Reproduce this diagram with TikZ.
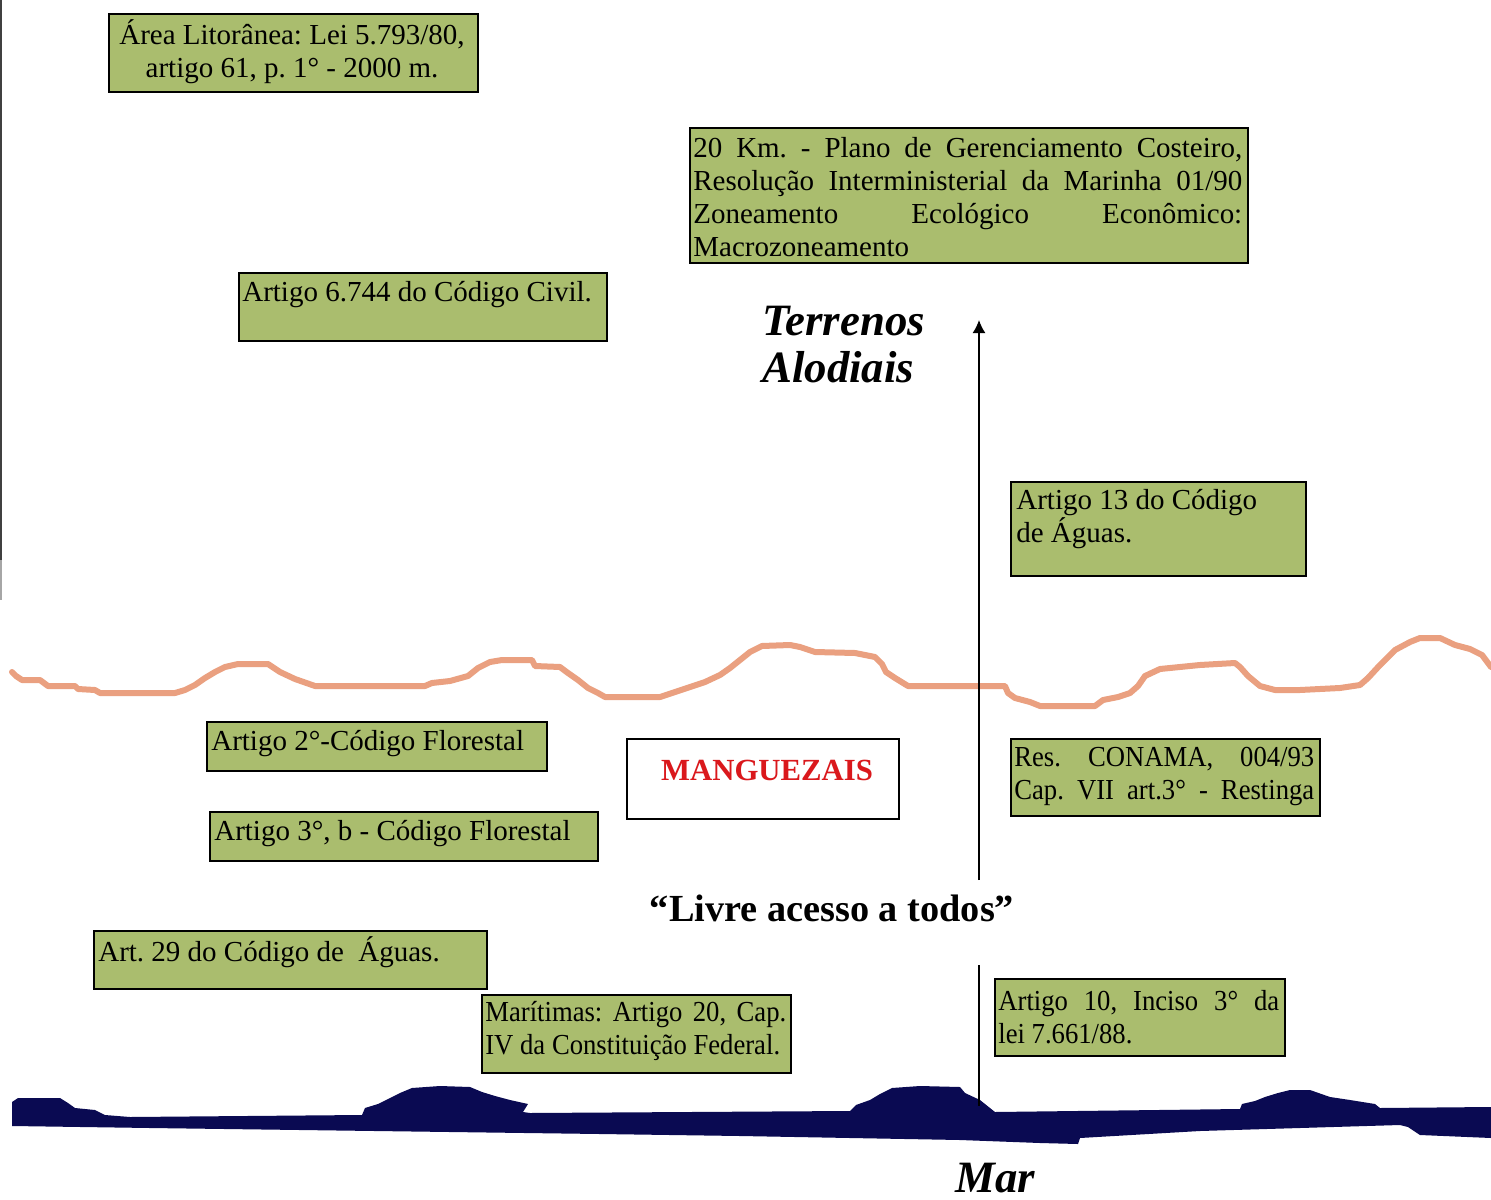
\documentclass[tikz,border=0pt]{standalone}
\usepackage{fontspec}
\setmainfont{Liberation Serif}
\newfontfamily\condfont[FakeStretch=0.92]{Liberation Serif}
\usetikzlibrary{arrows.meta}
\definecolor{boxgreen}{RGB}{170,189,110}
\definecolor{coast}{RGB}{234,160,128}
\definecolor{sea}{RGB}{10,10,82}
\definecolor{mred}{RGB}{218,24,28}
\newcommand\jline[2]{\makebox[#1][s]{#2}}
\AtBeginDocument{\frenchspacing}
\begin{document}
\begin{tikzpicture}[x=0.02cm,y=-0.02cm,
  gbox/.style={draw=black, line width=0.04cm, fill=boxgreen, anchor=north west, inner sep=0pt},
  wbox/.style={gbox, fill=white},
  txt/.style={anchor=west, inner sep=0pt, align=left, font=\fontsize{16.5}{18.8}\selectfont},
  ctxt/.style={anchor=west, inner sep=0pt, align=left, font=\condfont\fontsize{16.5}{18.8}\selectfont},
  bigit/.style={anchor=base west, inner sep=0pt, font=\fontsize{25.5}{27}\selectfont\bfseries\itshape},
  coastline/.style={draw=coast, line width=0.12cm, line join=round, line cap=round},
  axis/.style={draw=black, line width=0.03cm}]
\fill[white] (0,0) rectangle (1491,1200);
\useasboundingbox (0,0) rectangle (1491,1200);
% scan edge on the left
\draw[black!75, line width=0.04cm] (1,0) -- (1,560);
\draw[black!35, line width=0.04cm] (1,560) -- (1,600);

% coastline (orange)
\draw[coastline] (12,672) -- (16,676) -- (22,680) -- (40,680) -- (48,686) -- (75,686) -- (78,689) -- (95,690) -- (100,693) -- (175,693) -- (185,690) -- (195,685) -- (205,678) -- (215,672) -- (225,667) -- (238,664) -- (268,664) -- (280,672) -- (295,679) -- (315,686) -- (425,686) -- (432,683) -- (450,681) -- (468,676) -- (478,668) -- (490,662) -- (502,660) -- (532,660) -- (535,666) -- (560,667) -- (568,673) -- (578,680) -- (588,688) -- (598,693) -- (605,697) -- (660,697) -- (672,693) -- (690,687) -- (705,682) -- (720,675) -- (730,668) -- (740,660) -- (750,652) -- (762,646) -- (790,645) -- (800,647) -- (815,652) -- (855,653) -- (875,657) -- (882,664) -- (886,672) -- (895,678) -- (908,686) -- (1005,686) -- (1008,693) -- (1015,698) -- (1030,702) -- (1040,706) -- (1095,706) -- (1103,700) -- (1118,697) -- (1130,693) -- (1138,686) -- (1145,676) -- (1160,669) -- (1200,665) -- (1235,663) -- (1240,667) -- (1248,676) -- (1260,686) -- (1275,690) -- (1300,690) -- (1340,688) -- (1360,685) -- (1368,678) -- (1380,665) -- (1395,650) -- (1410,642) -- (1420,638) -- (1440,638) -- (1455,645) -- (1470,649) -- (1482,655) -- (1491,667);

% sea (navy)
\fill[sea] (12,1102) -- (18,1098) -- (60,1098) -- (68,1103) -- (75,1108) -- (95,1110) -- (105,1115) -- (130,1117) -- (362,1115) -- (365,1108) -- (378,1104) -- (390,1098) -- (400,1093) -- (412,1088) -- (440,1086) -- (470,1087) -- (482,1092) -- (495,1096) -- (510,1100) -- (528,1104) -- (523,1112) -- (530,1113) -- (850,1111) -- (856,1105) -- (870,1100) -- (880,1094) -- (892,1088) -- (920,1086) -- (960,1087) -- (965,1093) -- (980,1100) -- (990,1108) -- (995,1112) -- (1240,1109) -- (1242,1104) -- (1255,1101) -- (1265,1097) -- (1278,1093) -- (1290,1090) -- (1310,1090) -- (1330,1097) -- (1350,1100) -- (1375,1104) -- (1380,1108) -- (1491,1107) -- (1491,1138) -- (1420,1135) -- (1408,1127) -- (1400,1125) -- (1200,1131) -- (1080,1138) -- (1078,1144) -- (1040,1143) -- (960,1140) -- (740,1136) -- (600,1134) -- (300,1130) -- (150,1128) -- (12,1126) -- cycle;

% axis
\coordinate (upperFoot) at (979,880);
\coordinate (upperTip) at (979,320);
\coordinate (lowerTop) at (979,965);
\coordinate (lowerFoot) at (979,1106);
\draw[axis, -{Latex[length=7.5pt,width=7.5pt]}] (upperFoot) -- (upperTip);
\draw[axis] (lowerTop) -- (lowerFoot);

% boxes
\node[gbox, minimum width=7.38cm, minimum height=1.56cm] (b1) at (108,13) {};
\node[txt, anchor=center, align=center] (t1) at (292,52) {Área Litorânea: Lei 5.793/80,\\artigo 61, p. 1° - 2000 m.};

\node[gbox, minimum width=11.16cm, minimum height=2.70cm] (b2) at (689,127) {};
\node[txt] (t2) at (693,197) {\jline{10.98cm}{20 Km. - Plano de Gerenciamento Costeiro,}\\\jline{10.98cm}{Resolução Interministerial da Marinha 01/90}\\\jline{10.98cm}{Zoneamento Ecológico Econômico:}\\Macrozoneamento};

\node[gbox, minimum width=7.36cm, minimum height=1.36cm] (b3) at (238,272) {};
\node[txt] (t3) at (242,295) {Artigo 6.744 do Código Civil.};

\node[gbox, minimum width=5.90cm, minimum height=1.88cm] (b4) at (1010,481) {};
\node[txt] (t4) at (1016,519) {Artigo 13 do Código\\ de Águas.};

\node[gbox, minimum width=6.80cm, minimum height=0.98cm] (b5) at (206,721) {};
\node[txt] (t5) at (211,744) {Artigo 2°-Código Florestal};

\node[wbox, minimum width=5.44cm, minimum height=1.60cm] (b6) at (626,738) {};
\node[anchor=center, inner sep=0pt, text=mred, font=\fontsize{17.5}{20}\selectfont\bfseries] (t6) at (767,770) {MANGUEZAIS};

\node[gbox, minimum width=6.18cm, minimum height=1.54cm] (b7) at (1010,738) {};
\node[ctxt] (t7) at (1014,776) {\jline{6.0cm}{Res. CONAMA, 004/93}\\\jline{6.0cm}{Cap. VII art.3° - Restinga}};

\node[gbox, minimum width=7.76cm, minimum height=0.98cm] (b8) at (209,811) {};
\node[txt] (t8) at (214,834) {Artigo 3°, b - Código Florestal};

\node[gbox, minimum width=7.86cm, minimum height=1.16cm] (b9) at (93,930) {};
\node[txt] (t9) at (98,952) {Art. 29 do Código de \ Águas.};

\node[gbox, minimum width=6.18cm, minimum height=1.56cm] (b10) at (481,994) {};
\node[ctxt] (t10) at (485,1031) {\jline{6.02cm}{Marítimas: Artigo 20, Cap.}\\IV da Constituição Federal.};

\node[gbox, minimum width=5.80cm, minimum height=1.54cm] (b11) at (994,978) {};
\node[ctxt] (t11) at (998,1017) {\jline{5.62cm}{Artigo 10, Inciso 3° da}\\lei 7.661/88.};

% free labels
\node[bigit] (terr) at (762,335) {Terrenos};
\node[bigit] (alod) at (762,382) {Alodiais};
\node[anchor=center, inner sep=0pt, font=\fontsize{21.8}{24}\selectfont\bfseries] (livre) at (832,908) {“Livre acesso a todos”};
\node[anchor=base, inner sep=0pt, font=\fontsize{25.5}{28}\selectfont\bfseries\itshape] (mar) at (995,1192) {Mar};
\end{tikzpicture}
\end{document}
